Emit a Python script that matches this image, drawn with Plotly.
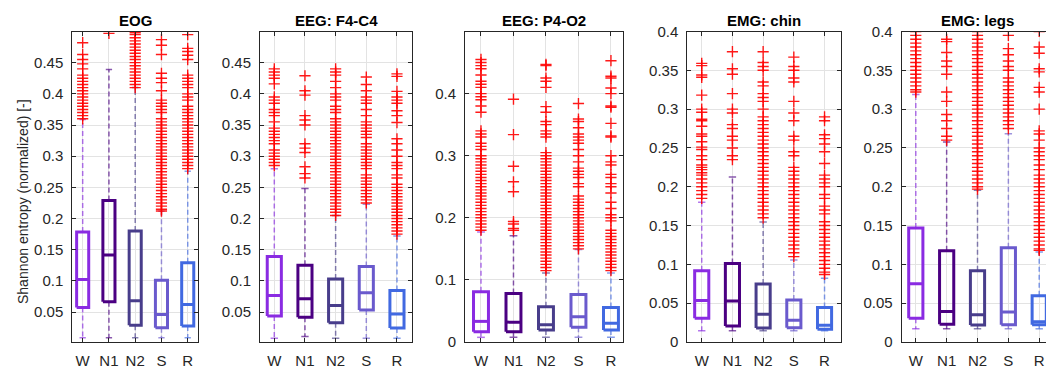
import plotly.graph_objects as go

stages = ["W", "N1", "N2", "S", "R"]
stage_colors = ["#8A2BE2", "#4B0082", "#483D8B", "#6A5ACD", "#4169E1"]
whisker_colors = ["rgba(138,43,226,0.65)", "rgba(75,0,130,0.65)", "rgba(72,61,139,0.65)",
                  "rgba(106,90,205,0.65)", "rgba(65,105,225,0.65)"]
titles = ["EOG", "EEG: F4-C4", "EEG: P4-O2", "EMG: chin", "EMG: legs"]
y_label = "Shannon entropy (normalized) [-]"

# ---------------- EOG ----------------
eog_q1 = [0.0575, 0.0665, 0.0287, 0.025, 0.0276]
eog_med = [0.1023, 0.1417, 0.068, 0.046, 0.0623]
eog_q3 = [0.1785, 0.229, 0.180, 0.101, 0.129]
eog_lo = [0.009, 0.009, 0.009, 0.009, 0.009]
eog_hi = [0.359, 0.439, 0.41, 0.2116, 0.276]
eog_out_W = [0.482, 0.463, 0.455, 0.448, 0.44, 0.43, 0.425, 0.42, 0.415, 0.41, 0.405, 0.40,
             0.395, 0.39, 0.385, 0.38, 0.375, 0.37, 0.365, 0.36]
eog_out_N1 = [0.497]
eog_out_N2 = [0.41, 0.415, 0.42, 0.425, 0.43, 0.435, 0.44, 0.445, 0.45, 0.455, 0.46, 0.465,
              0.47, 0.475, 0.48, 0.485, 0.49, 0.495, 0.498]
eog_out_S = [0.487, 0.478, 0.463, 0.433, 0.425, 0.418, 0.405, 0.39, 0.385, 0.38, 0.375, 0.37,
             0.36, 0.355, 0.35, 0.345, 0.34, 0.335, 0.33, 0.325, 0.32, 0.315, 0.31, 0.305, 0.30,
             0.295, 0.29, 0.285, 0.28, 0.275, 0.27, 0.265, 0.26, 0.255, 0.25, 0.245, 0.24,
             0.235, 0.23, 0.225, 0.22, 0.215, 0.212]
eog_out_R = [0.495, 0.473, 0.468, 0.462, 0.455, 0.43, 0.425, 0.42, 0.415, 0.41, 0.40, 0.395,
             0.39, 0.38, 0.375, 0.37, 0.365, 0.36, 0.355, 0.35, 0.345, 0.34, 0.335, 0.33,
             0.325, 0.32, 0.315, 0.31, 0.305, 0.30, 0.295, 0.29, 0.285, 0.28]

# ---------------- EEG F4-C4 ----------------
f4_q1 = [0.0436, 0.0415, 0.033, 0.0532, 0.0244]
f4_med = [0.0767, 0.0713, 0.0607, 0.081, 0.0468]
f4_q3 = [0.139, 0.125, 0.103, 0.123, 0.0847]
f4_lo = [0.008, 0.011, 0.008, 0.008, 0.008]
f4_hi = [0.28, 0.248, 0.205, 0.223, 0.172]
f4_out_W = [0.44, 0.435, 0.43, 0.425, 0.416, 0.395, 0.39, 0.385, 0.375, 0.37, 0.365, 0.355,
            0.345, 0.34, 0.335, 0.33, 0.325, 0.32, 0.31, 0.305, 0.30, 0.295, 0.29, 0.285]
f4_out_N1 = [0.429, 0.405, 0.398, 0.365, 0.358, 0.35, 0.32, 0.313, 0.306, 0.283, 0.272, 0.265]
f4_out_N2 = [0.44, 0.435, 0.43, 0.42, 0.41, 0.40, 0.395, 0.39, 0.38, 0.375, 0.37, 0.36, 0.355,
             0.35, 0.345, 0.34, 0.335, 0.33, 0.325, 0.32, 0.315, 0.31, 0.305, 0.30, 0.295,
             0.29, 0.285, 0.28, 0.275, 0.27, 0.265, 0.26, 0.255, 0.25, 0.245, 0.24, 0.235,
             0.23, 0.225, 0.22, 0.215, 0.21, 0.205]
f4_out_S = [0.427, 0.415, 0.405, 0.395, 0.39, 0.385, 0.375, 0.365, 0.355, 0.35, 0.345, 0.34,
            0.335, 0.33, 0.32, 0.315, 0.31, 0.305, 0.30, 0.295, 0.29, 0.285, 0.28, 0.27,
            0.265, 0.26, 0.255, 0.25, 0.245, 0.24, 0.235, 0.23, 0.225]
f4_out_R = [0.432, 0.428, 0.404, 0.395, 0.39, 0.385, 0.373, 0.365, 0.354, 0.328, 0.32, 0.31,
            0.30, 0.29, 0.285, 0.28, 0.27, 0.265, 0.255, 0.25, 0.245, 0.24, 0.235, 0.23,
            0.225, 0.22, 0.215, 0.21, 0.205, 0.20, 0.195, 0.19, 0.185, 0.18, 0.175]

# ---------------- EEG P4-O2 ----------------
p4_q1 = [0.0166, 0.0166, 0.0193, 0.0236, 0.0193]
p4_med = [0.0332, 0.032, 0.0278, 0.0407, 0.030]
p4_q3 = [0.081, 0.078, 0.0567, 0.0766, 0.0557]
p4_lo = [0.0075, 0.0075, 0.0075, 0.0075, 0.0075]
p4_hi = [0.177, 0.171, 0.111, 0.149, 0.111]
p4_out_W = [0.455, 0.45, 0.445, 0.44, 0.43, 0.42, 0.415, 0.41, 0.40, 0.395, 0.39, 0.38, 0.37,
            0.34, 0.335, 0.33, 0.32, 0.315, 0.31, 0.30, 0.295, 0.29, 0.285, 0.28, 0.275, 0.27,
            0.265, 0.26, 0.255, 0.25, 0.245, 0.24, 0.235, 0.23, 0.225, 0.22, 0.215, 0.21,
            0.205, 0.20, 0.195, 0.19, 0.185, 0.18]
p4_out_N1 = [0.391, 0.334, 0.283, 0.258, 0.242, 0.194, 0.19, 0.183, 0.18]
p4_out_N2 = [0.447, 0.445, 0.425, 0.42, 0.41, 0.379, 0.37, 0.355, 0.35, 0.34, 0.335, 0.33,
             0.305, 0.30, 0.295, 0.29, 0.285, 0.28, 0.275, 0.27, 0.265, 0.26, 0.255, 0.25,
             0.245, 0.24, 0.235, 0.23, 0.225, 0.22, 0.215, 0.21, 0.205, 0.20, 0.195, 0.19,
             0.185, 0.18, 0.175, 0.17, 0.165, 0.16, 0.155, 0.15, 0.145, 0.14, 0.135, 0.13,
             0.125, 0.12, 0.115]
p4_out_S = [0.384, 0.359, 0.355, 0.345, 0.335, 0.33, 0.325, 0.32, 0.31, 0.30, 0.29, 0.28,
            0.275, 0.27, 0.265, 0.255, 0.25, 0.235, 0.23, 0.225, 0.22, 0.215, 0.21, 0.205,
            0.20, 0.195, 0.19, 0.185, 0.18, 0.175, 0.17, 0.165, 0.16, 0.155, 0.15]
p4_out_R = [0.453, 0.428, 0.425, 0.409, 0.40, 0.38, 0.378, 0.352, 0.332, 0.33, 0.30, 0.29,
            0.285, 0.27, 0.265, 0.255, 0.25, 0.24, 0.225, 0.215, 0.205, 0.20, 0.195, 0.18,
            0.175, 0.17, 0.165, 0.16, 0.155, 0.15, 0.145, 0.14, 0.135, 0.13, 0.125, 0.12,
            0.115]

# ---------------- EMG chin ----------------
chin_q1 = [0.0305, 0.0206, 0.018, 0.0184, 0.0163]
chin_med = [0.0536, 0.0527, 0.0356, 0.0279, 0.0215]
chin_q3 = [0.0917, 0.1012, 0.0746, 0.054, 0.0446]
chin_lo = [0.0146, 0.0146, 0.0146, 0.0146, 0.0146]
chin_hi = [0.180, 0.2126, 0.1547, 0.1055, 0.082]
chin_out_W = [0.359, 0.356, 0.344, 0.341, 0.318, 0.30, 0.296, 0.287, 0.285, 0.278, 0.268,
              0.265, 0.258, 0.251, 0.248, 0.24, 0.235, 0.228, 0.225, 0.222, 0.218, 0.215,
              0.21, 0.205, 0.20, 0.195, 0.19, 0.185]
chin_out_N1 = [0.374, 0.352, 0.345, 0.32, 0.30, 0.295, 0.28, 0.275, 0.265, 0.26, 0.25, 0.24,
               0.235]
chin_out_N2 = [0.374, 0.36, 0.355, 0.35, 0.335, 0.33, 0.32, 0.315, 0.31, 0.30, 0.29, 0.285,
               0.28, 0.275, 0.27, 0.265, 0.26, 0.255, 0.25, 0.245, 0.24, 0.235, 0.23, 0.225,
               0.22, 0.215, 0.21, 0.205, 0.20, 0.195, 0.19, 0.185, 0.18, 0.175, 0.17, 0.165,
               0.16]
chin_out_S = [0.367, 0.355, 0.35, 0.34, 0.335, 0.31, 0.295, 0.285, 0.265, 0.26, 0.245, 0.24,
              0.225, 0.22, 0.215, 0.21, 0.205, 0.20, 0.195, 0.19, 0.185, 0.18, 0.175, 0.17,
              0.165, 0.16, 0.155, 0.15, 0.145, 0.14, 0.135, 0.13, 0.125, 0.12, 0.115, 0.11]
chin_out_R = [0.29, 0.285, 0.267, 0.262, 0.255, 0.245, 0.23, 0.215, 0.21, 0.205, 0.20, 0.19,
              0.185, 0.175, 0.17, 0.165, 0.155, 0.15, 0.145, 0.14, 0.135, 0.13, 0.125, 0.12,
              0.115, 0.11, 0.105, 0.10, 0.095, 0.09, 0.087]

# ---------------- EMG legs ----------------
legs_q1 = [0.0305, 0.023, 0.0219, 0.0223, 0.0223]
legs_med = [0.075, 0.0394, 0.0351, 0.0386, 0.0261]
legs_q3 = [0.147, 0.1175, 0.0917, 0.1213, 0.0596]
legs_lo = [0.017, 0.017, 0.017, 0.017, 0.017]
legs_hi = [0.319, 0.2577, 0.1955, 0.2684, 0.116]
legs_out_W = [0.40, 0.395, 0.39, 0.385, 0.38, 0.375, 0.37, 0.365, 0.36, 0.355, 0.35, 0.345,
              0.34, 0.335, 0.33, 0.325, 0.322]
legs_out_N1 = [0.39, 0.387, 0.373, 0.362, 0.355, 0.345, 0.322, 0.31, 0.293, 0.285, 0.275,
               0.265, 0.26]
legs_out_N2 = [0.40, 0.395, 0.39, 0.385, 0.38, 0.375, 0.37, 0.365, 0.36, 0.355, 0.35, 0.345,
               0.34, 0.335, 0.33, 0.325, 0.32, 0.315, 0.31, 0.305, 0.30, 0.295, 0.29, 0.285,
               0.28, 0.275, 0.27, 0.265, 0.26, 0.255, 0.25, 0.245, 0.24, 0.235, 0.23, 0.225,
               0.22, 0.215, 0.21, 0.205, 0.20, 0.197]
legs_out_S = [0.395, 0.378, 0.37, 0.362, 0.355, 0.35, 0.34, 0.335, 0.33, 0.325, 0.32, 0.315,
              0.31, 0.305, 0.30, 0.295, 0.29, 0.285, 0.28, 0.275]
legs_out_R = [0.40, 0.38, 0.372, 0.352, 0.348, 0.328, 0.322, 0.30, 0.272, 0.268, 0.26, 0.25,
              0.245, 0.24, 0.235, 0.228, 0.222, 0.215, 0.21, 0.205, 0.20, 0.195, 0.19, 0.185,
              0.18, 0.175, 0.17, 0.165, 0.16, 0.155, 0.15, 0.145, 0.14, 0.135, 0.13, 0.125,
              0.12, 0.118]

# y ticks per panel
ticks_a = [0.05, 0.1, 0.15, 0.2, 0.25, 0.3, 0.35, 0.4, 0.45]
ticks_a_text = ["0.05", "0.1", "0.15", "0.2", "0.25", "0.3", "0.35", "0.4", "0.45"]
ticks_b = [0, 0.1, 0.2, 0.3, 0.4]
ticks_b_text = ["0", "0.1", "0.2", "0.3", "0.4"]
ticks_c = [0, 0.05, 0.1, 0.15, 0.2, 0.25, 0.3, 0.35, 0.4]
ticks_c_text = ["0", "0.05", "0.1", "0.15", "0.2", "0.25", "0.3", "0.35", "0.4"]

panels = [
    dict(q1=eog_q1, med=eog_med, q3=eog_q3, lo=eog_lo, hi=eog_hi,
         out=[eog_out_W, eog_out_N1, eog_out_N2, eog_out_S, eog_out_R],
         yr=[0.002, 0.5], tv=ticks_a, tt=ticks_a_text),
    dict(q1=f4_q1, med=f4_med, q3=f4_q3, lo=f4_lo, hi=f4_hi,
         out=[f4_out_W, f4_out_N1, f4_out_N2, f4_out_S, f4_out_R],
         yr=[0.002, 0.5], tv=ticks_a, tt=ticks_a_text),
    dict(q1=p4_q1, med=p4_med, q3=p4_q3, lo=p4_lo, hi=p4_hi,
         out=[p4_out_W, p4_out_N1, p4_out_N2, p4_out_S, p4_out_R],
         yr=[0, 0.5], tv=ticks_b, tt=ticks_b_text),
    dict(q1=chin_q1, med=chin_med, q3=chin_q3, lo=chin_lo, hi=chin_hi,
         out=[chin_out_W, chin_out_N1, chin_out_N2, chin_out_S, chin_out_R],
         yr=[0, 0.4], tv=ticks_c, tt=ticks_c_text),
    dict(q1=legs_q1, med=legs_med, q3=legs_q3, lo=legs_lo, hi=legs_hi,
         out=[legs_out_W, legs_out_N1, legs_out_N2, legs_out_S, legs_out_R],
         yr=[0, 0.4], tv=ticks_c, tt=ticks_c_text),
]

# layout (pixels in a 1046 x 370 canvas)
W_PX, H_PX = 1046, 370
x_px = [(72.3, 197.7), (260, 412.3), (465, 623.3), (687.3, 840.5), (901.7, 1046)]
x_ranges = [[0.605, 5.38], [0.534, 5.50], [0.508, 5.38], [0.53, 5.52], [0.543, 5.22]]
y_dom = [(H_PX - 342) / H_PX, (H_PX - 31.5) / H_PX]

HALF = 0.23
CAP = 0.12
AX_COL = "#262626"
GRID_COL = "#e3e3e3"
FONT = "Liberation Sans, Arial, Helvetica, sans-serif"

fig = go.Figure()
layout_axes = {}
annotations = []

for p, pan in enumerate(panels):
    xa = "x" if p == 0 else f"x{p+1}"
    ya = "y" if p == 0 else f"y{p+1}"
    for i in range(5):
        c = i + 1
        col = stage_colors[i]
        wcol = whisker_colors[i]
        q1, med, q3 = pan["q1"][i], pan["med"][i], pan["q3"][i]
        lo, hi = pan["lo"][i], pan["hi"][i]
        # whiskers (dashed)
        fig.add_trace(go.Scatter(
            x=[c, c, None, c, c], y=[q3, hi, None, q1, lo],
            mode="lines", line=dict(color=wcol, width=1.5, dash="5px,3px"),
            xaxis=xa, yaxis=ya, showlegend=False, hoverinfo="skip"))
        # caps
        fig.add_trace(go.Scatter(
            x=[c - CAP, c + CAP, None, c - CAP, c + CAP], y=[hi, hi, None, lo, lo],
            mode="lines", line=dict(color=wcol, width=1.5),
            xaxis=xa, yaxis=ya, showlegend=False, hoverinfo="skip"))
        # box + median
        fig.add_trace(go.Scatter(
            x=[c - HALF, c + HALF, c + HALF, c - HALF, c - HALF, None, c - HALF, c + HALF],
            y=[q1, q1, q3, q3, q1, None, med, med],
            mode="lines", line=dict(color=col, width=3),
            xaxis=xa, yaxis=ya, showlegend=False, hoverinfo="skip"))
        # outliers
        outs = pan["out"][i]
        fig.add_trace(go.Scatter(
            x=[c] * len(outs), y=outs, mode="markers",
            marker=dict(symbol="cross-thin", size=8,
                        line=dict(color="rgba(255,0,0,0.9)", width=1.4)),
            xaxis=xa, yaxis=ya, showlegend=False, hoverinfo="skip"))

    x0, x1 = x_px[p]
    xkey = "xaxis" if p == 0 else f"xaxis{p+1}"
    ykey = "yaxis" if p == 0 else f"yaxis{p+1}"
    layout_axes[xkey] = dict(
        domain=[x0 / W_PX, min(x1 / W_PX, 1.0)], range=x_ranges[p], anchor=ya,
        automargin=False,
        tickmode="array", tickvals=[1, 2, 3, 4, 5], ticktext=stages,
        showgrid=True, gridcolor=GRID_COL, gridwidth=1, zeroline=False,
        showline=True, linecolor=AX_COL, linewidth=1, mirror="ticks",
        ticks="inside", ticklen=4, tickcolor=AX_COL,
        tickfont=dict(family=FONT, size=15, color=AX_COL), ticklabelstandoff=5)
    layout_axes[ykey] = dict(
        domain=y_dom, range=pan["yr"], anchor=xa, automargin=False,
        tickmode="array", tickvals=pan["tv"], ticktext=pan["tt"],
        showgrid=True, gridcolor=GRID_COL, gridwidth=1, zeroline=False,
        showline=True, linecolor=AX_COL, linewidth=1,
        mirror=("ticks" if p < 4 else False),
        ticks="inside", ticklen=4, tickcolor=AX_COL,
        tickfont=dict(family=FONT, size=15, color=AX_COL), ticklabelstandoff=5)
    annotations.append(dict(
        text="<b>" + titles[p] + "</b>", xref="paper", yref="paper",
        x=((x0 + min(x1, W_PX)) / 2 if p < 4 else (x0 + 1054) / 2) / W_PX,
        y=(H_PX - 20) / H_PX, xanchor="center", yanchor="middle", showarrow=False,
        font=dict(family=FONT, size=15, color="#000000")))

annotations.append(dict(
    text=y_label, xref="paper", yref="paper", x=23 / W_PX, y=(H_PX - 202) / H_PX,
    xanchor="center", yanchor="middle", textangle=-90, showarrow=False,
    font=dict(family=FONT, size=14, color=AX_COL)))

fig.update_layout(
    template="none",
    width=W_PX, height=H_PX, margin=dict(l=0, r=0, t=0, b=0, pad=0),
    paper_bgcolor="white", plot_bgcolor="white",
    annotations=annotations, **layout_axes)

fig.write_html("out.html")
